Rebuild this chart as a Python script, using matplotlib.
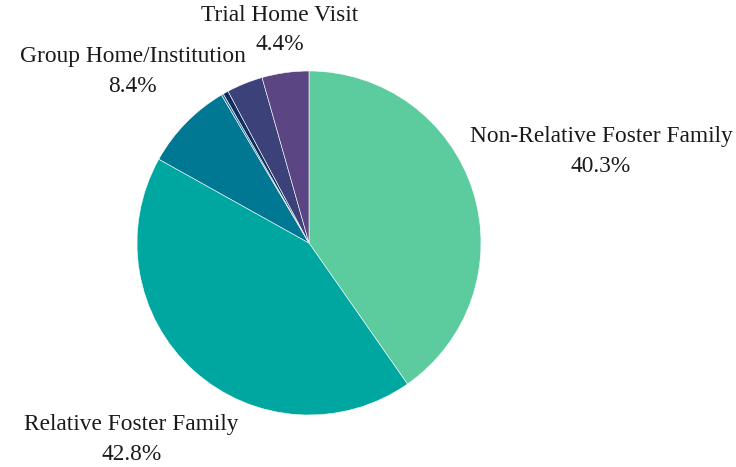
import numpy as np
import matplotlib.pyplot as plt

# placement categories, clockwise from the top
categories = ['Non-Relative Foster Family', 'Relative Foster Family',
              'Group Home/Institution', 'Other', 'Runaway',
              'Independent Living', 'Trial Home Visit']
shares = [40.3, 42.8, 8.4, 0.2, 0.5, 3.4, 4.4]
shown = [True, True, True, False, False, False, True]

colors = ['#5ccc9e', '#00a6a0', '#007893', '#2f6f97', '#0f2f5f',
          '#3c4279', '#5b4683']
# distance of each label from the centre, in pie radii
label_dist = [1.78, 1.54, 1.43, 1.0, 1.0, 1.0, 1.25]

plt.rcParams['font.family'] = ['Liberation Serif', 'DejaVu Serif']

fig = plt.figure(figsize=(7.36, 4.67), dpi=100)
cx, cy, r = 309, 467 - 243, 172
ax = fig.add_axes([(cx - r) / 736, (cy - r) / 467, 2 * r / 736, 2 * r / 467])

wedges, _ = ax.pie(shares, colors=colors, startangle=90, counterclock=False,
                   radius=1, wedgeprops=dict(edgecolor='white', linewidth=0.4))
ax.set_xlim(-1, 1)
ax.set_ylim(-1, 1)
ax.set_aspect('equal')
ax.axis('off')

total = sum(shares)
for w, name, val, show, d in zip(wedges, categories, shares, shown, label_dist):
    if not show:
        continue
    ang = np.deg2rad((w.theta1 + w.theta2) / 2)
    x, y = d * np.cos(ang), d * np.sin(ang)
    ax.text(x, y, '%s\n%.1f%%' % (name, 100 * val / total), ha='center',
            va='center', fontsize=16.8, color='#1a1a1a', linespacing=1.55,
            clip_on=False)

fig.savefig('out.png', dpi=100)
